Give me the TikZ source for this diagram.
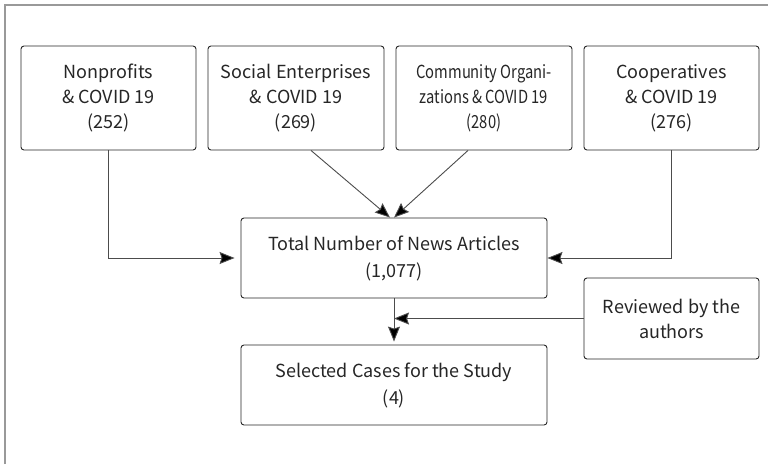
\documentclass[tikz,border=0pt]{standalone}
\usepackage{fontspec}
\usepackage{graphicx}
\setmainfont{Noto Sans CJK KR}
\usetikzlibrary{arrows.meta}
\newcommand{\sq}[1]{\scalebox{0.82}[1]{#1}}
\begin{document}
\begin{tikzpicture}[x=1pt,y=-1pt,
  box/.style={draw=black!85, line width=0.9pt, rounded corners=3pt, align=center,
    inner sep=0pt, font=\fontsize{18}{25}\selectfont, text=black!85},
  conn/.style={draw=black!70, line width=0.9pt,
    -{Stealth[length=15pt,width=12pt,inset=2pt,fill=black]}}]
\useasboundingbox (0,0) rectangle (768,464);
\fill[white] (0,0) rectangle (768,464);
\draw[black!40, line width=1.5pt] (5,464) -- (5,5) -- (768,5);

\node[box, minimum width=175pt, minimum height=104pt] (b1) at (108.5,98)
  {Nonprofits\\\& COVID 19\\(252)};
\node[box, minimum width=176pt, minimum height=104pt] (b2) at (296,98)
  {Social Enterprises\\\& COVID 19\\(269)};
\node[box, minimum width=176pt, minimum height=104pt] (b3) at (484,98)
  {\sq{Community Organi-}\\\sq{zations \& COVID 19}\\\sq{(280)}};
\node[box, minimum width=175pt, minimum height=104pt] (b4) at (671.5,98)
  {Cooperatives\\\& COVID 19\\(276)};
\node[box, minimum width=306pt, minimum height=80pt, font=\fontsize{18}{27}\selectfont] (tot) at (394,258)
  {Total Number of News Articles\\(1,077)};
\node[box, minimum width=306pt, minimum height=80pt, font=\fontsize{18}{27}\selectfont] (sel) at (394,385)
  {Selected Cases for the Study\\(4)};
\node[box, minimum width=175pt, minimum height=81pt] (rev) at (671.5,318.5)
  {Reviewed by the\\authors};

\draw[conn, shorten >=6pt] (b1.south) |- (tot.west);
\draw[conn] ([xshift=15pt]b2.south) -- ([xshift=-4pt]tot.north);
\draw[conn] ([xshift=-16pt]b3.south) -- ([xshift=0pt]tot.north);
\draw[conn] (b4.south) |- (tot.east);
\draw[conn, shorten >=3pt] (tot.south) -- (sel.north);
\coordinate (mid) at (tot.south |- rev.west);
\draw[conn] (rev.west) -- (mid);
\end{tikzpicture}
\end{document}
